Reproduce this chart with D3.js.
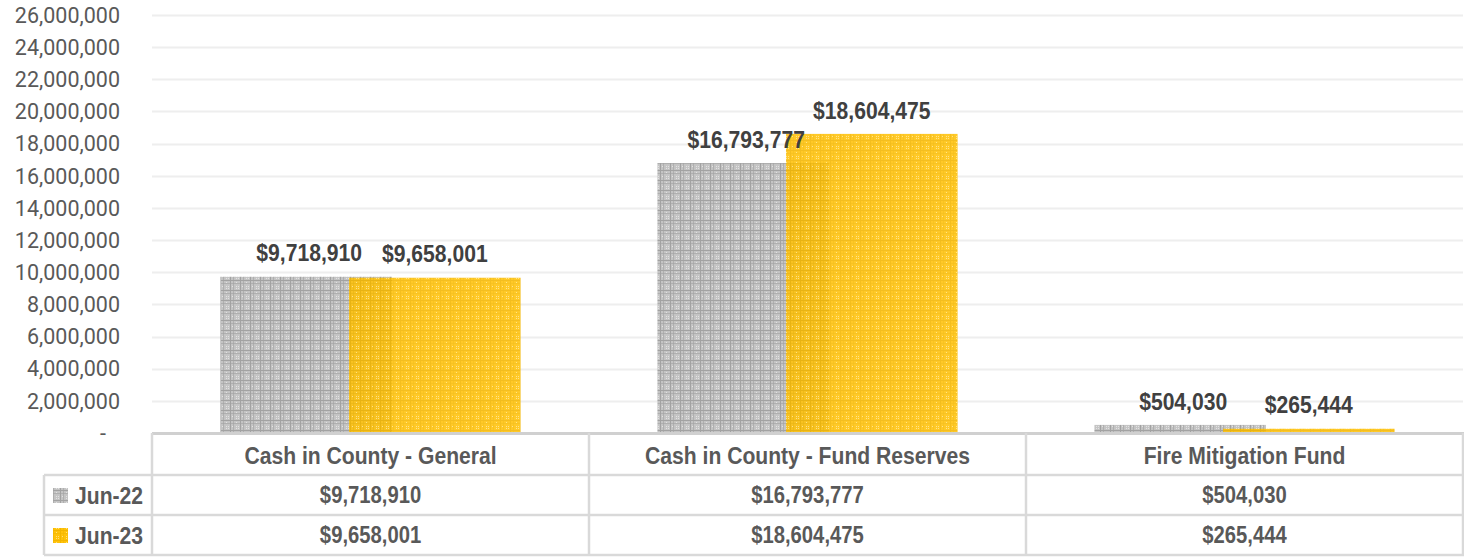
<!DOCTYPE html>
<html><head><meta charset="utf-8">
<script src="https://cdn.jsdelivr.net/npm/d3@7"></script>
<style>
html,body{margin:0;padding:0;background:#fff;}
svg{display:block;}
.ax{font-family:Roboto,"Liberation Sans",sans-serif;font-size:21.5px;fill:#595959;}
.bl{font-family:"Liberation Sans",Arial,sans-serif;font-weight:bold;}
</style></head><body>
<svg id="c" width="1464" height="560"></svg>
<script>
const categories = ["Cash in County - General", "Cash in County - Fund Reserves", "Fire Mitigation Fund"];
const seriesNames = ["Jun-22", "Jun-23"];
const jun22 = [9718910, 16793777, 504030];
const jun23 = [9658001, 18604475, 265444];
const yTicks = [0,2000000,4000000,6000000,8000000,10000000,12000000,14000000,16000000,18000000,20000000,22000000,24000000,26000000];

(function(){
const svg = d3.select("#c");
const pLeft = 152, pRight = 1463, pTop = 15, base = 433;
const rowH = [433, 475, 515, 555];
const SX = 0.88;

const defs = svg.append("defs");
function pat(id, bg, dark, light){
  const p = defs.append("pattern").attr("id", id).attr("patternUnits","userSpaceOnUse")
    .attr("width", 10).attr("height", 10);
  p.append("rect").attr("width",10).attr("height",10).attr("fill",bg);
  p.append("rect").attr("x",0).attr("y",0).attr("width",1).attr("height",10).attr("fill",dark);
  p.append("rect").attr("x",0).attr("y",0).attr("width",10).attr("height",1).attr("fill",dark);
  p.append("rect").attr("x",3).attr("y",0).attr("width",1).attr("height",10).attr("fill",dark).attr("opacity",0.6);
  p.append("rect").attr("x",0).attr("y",3).attr("width",10).attr("height",1).attr("fill",dark).attr("opacity",0.6);
  [[6,6],[8,8],[6,8],[8,6],[2,6],[6,2]].forEach(([x,y])=>p.append("rect").attr("x",x).attr("y",y).attr("width",1).attr("height",1).attr("fill",light));
}
pat("pg", "#c4c4c4", "#a2a2a2", "#e2e2e2");
pat("py", "#ffc20a", "#f2b500", "#ffe27a");
const fills = ["url(#pg)", "url(#py)"];

function ctext(g, x, y, txt, size, color, anchor){
  g.append("text").attr("class","bl")
    .attr("transform", `translate(${x},${y}) scale(${SX},1)`)
    .attr("dy","0.36em").attr("text-anchor", anchor||"middle")
    .attr("font-size", size).attr("fill", color).text(txt);
}

const y = d3.scaleLinear().domain([0, 26000000]).range([base, pTop]);
const x = d3.scaleBand().domain(categories).range([pLeft, pRight]).paddingInner(0).paddingOuter(0);
const bw = x.bandwidth();
const barW = bw * 0.3925;
const stepW = barW * 0.75;
const groupW = barW + stepW;

svg.append("g").selectAll("line").data(yTicks.filter(d=>d>0)).join("line")
  .attr("x1", pLeft).attr("x2", pRight).attr("y1", d=>Math.round(y(d))+0.5).attr("y2", d=>Math.round(y(d))+0.5)
  .attr("stroke", "#eeeeee").attr("stroke-width", 2);

const fmt = d3.format(",");
svg.append("g").selectAll("text").data(yTicks).join("text")
  .attr("class","ax")
  .attr("x", d=> d===0 ? 106 : 120)
  .attr("y", d=>y(d)).attr("dy","0.36em")
  .attr("text-anchor","end")
  .text(d=> d===0 ? "-" : fmt(d));

const series = [jun22, jun23];
series.forEach((vals, si)=>{
  svg.append("g").selectAll("rect").data(categories).join("rect")
    .attr("x", (c)=> x(c) + (bw-groupW)/2 + si*stepW)
    .attr("y", (c,i)=> y(vals[i]))
    .attr("width", barW)
    .attr("height", (c,i)=> base - y(vals[i]))
    .attr("fill", fills[si])
    .attr("opacity", si===1 ? 0.88 : 1);
});
const lg = svg.append("g");
series.forEach((vals, si)=>{
  categories.forEach((c,i)=>{
    ctext(lg, x(c) + (bw-groupW)/2 + si*stepW + barW/2 + (si===0?3:0), y(vals[i]) - 24,
      "$" + fmt(vals[i]), 24, "#404040");
  });
});

const lineC = "#d9d9d9";
const tl = svg.append("g");
tl.append("line").attr("x1", pLeft).attr("x2", pRight+1).attr("y1", rowH[0]+0.5).attr("y2", rowH[0]+0.5).attr("stroke","#d0d0d0").attr("stroke-width",3);
[1,2,3].forEach(r=> tl.append("line").attr("x1",44).attr("x2",pRight+1).attr("y1",rowH[r]).attr("y2",rowH[r]).attr("stroke",lineC).attr("stroke-width",2.5));
tl.append("line").attr("x1",44).attr("x2",44).attr("y1",rowH[1]).attr("y2",rowH[3]).attr("stroke",lineC).attr("stroke-width",2.5);
const vx = [pLeft].concat(categories.map(c=>x(c)+bw));
vx.forEach(v=> tl.append("line").attr("x1",v).attr("x2",v).attr("y1",rowH[0]).attr("y2",rowH[3]).attr("stroke",lineC).attr("stroke-width",2.5));

const tg = svg.append("g");
categories.forEach(c=> ctext(tg, x(c)+bw/2, (rowH[0]+rowH[1])/2+1, c, 24, "#595959"));
series.forEach((vals, si)=>{
  const yc = (rowH[si+1]+rowH[si+2])/2;
  categories.forEach((c,i)=> ctext(tg, x(c)+bw/2, yc, "$"+fmt(vals[i]), 23, "#595959"));
  svg.append("rect").attr("x",53).attr("y",yc-7).attr("width",15).attr("height",15).attr("fill",fills[si]);
  ctext(tg, 75, yc, seriesNames[si], 24, "#595959", "start");
});
})();
</script>
</body></html>
